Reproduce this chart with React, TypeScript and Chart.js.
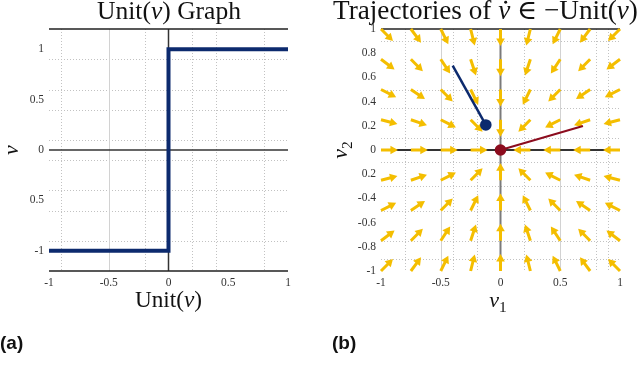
import React, { useEffect, useRef } from "react";
import { Chart, registerables } from "chart.js";
Chart.register(...registerables);

// ---------- Panel (a): Unit(v) graph ----------
const stepX = [-1, 0, 0, 1];
const stepY = [-1, -1, 1, 1];
const aXTicks = [-1, -0.5, 0, 0.5, 1];
const aXTickLabels = ["-1", "-0.5", "0", "0.5", "1"];
const aYTicks = [1, 0.5, 0, -0.5, -1];
const aYTickLabels = ["1", "0.5", "0", "0.5", "-1"];
const aDottedX = [-0.9, -0.2, 0.2, 0.4, 0.8];
const aDottedY = [0.9, 0.6, 0.4, 0.1, -0.1, -0.4, -0.6, -0.9];
const aSolidX = [-0.5];

// ---------- Panel (b): trajectories of v' in -Unit(v) ----------
const quiverX = [-1, -0.75, -0.5, -0.25, 0, 0.25, 0.5, 0.75, 1];
const quiverY = [1, 0.75, 0.5, 0.25, 0, -0.25, -0.5, -0.75, -1];
const arrowLength = 0.1;
const trajX = [-0.4, -0.123];
const trajY = [0.697, 0.207];
const vecX = [0, 0.69];
const vecY = [0, 0.198];
const bXTicks = [-1, -0.5, 0, 0.5, 1];
const bXTickLabels = ["-1", "-0.5", "0", "0.5", "1"];
const bYTicks = [1, 0.8, 0.6, 0.4, 0.2, 0, -0.2, -0.4, -0.6, -0.8, -1];
const bYTickLabels = ["1", "0.8", "0.6", "0.4", "0.2", "0", "0.2", "-0.4", "-0.6", "-0.8", "-1"];
const bDottedX = [-0.8, -0.4, -0.2, 0.2, 0.8, 0.9];
const bDottedY = [0.9, 0.5, 0.35, 0.1, -0.1, -0.3, -0.5, -0.75, -0.9];
const bSolidX = [-0.5, 0.5];

const SERIF = '"Liberation Serif", "DejaVu Serif", serif';
const SANS = '"Liberation Sans", Arial, sans-serif';
const NAVY = "#0c2a6e";
const DARKRED = "#8c0c1e";
const GOLD = "#f4be00";
const TICK_FONT = { family: SERIF, size: 11.5 };
const TICK_COLOR = "#333333";

// quiver field: -Unit(v) evaluated on the grid
const quiverData: { x: number; y: number | null }[] = [];
const quiverAngles: number[] = [];
for (const y of quiverY) {
  for (const x of quiverX) {
    const n = Math.hypot(x, y);
    if (n === 0) continue;
    const ux = -x / n;
    const uy = -y / n;
    quiverData.push({ x, y });
    quiverData.push({ x: x + arrowLength * ux, y: y + arrowLength * uy });
    quiverData.push({ x: x + arrowLength * ux, y: null });
    quiverAngles.push((Math.atan2(ux, uy) * 180) / Math.PI);
  }
}

type Seg = { t: string; it?: boolean; sub?: boolean; dot?: boolean };

function segFont(s: Seg, size: number) {
  const sz = s.sub ? size * 0.7 : size;
  return `${s.it ? "italic " : ""}${sz}px ${SERIF}`;
}
function richWidth(ctx: CanvasRenderingContext2D, segs: Seg[], size: number) {
  let w = 0;
  for (const s of segs) {
    ctx.font = segFont(s, size);
    w += ctx.measureText(s.t).width;
  }
  return w;
}
function drawRich(
  ctx: CanvasRenderingContext2D,
  segs: Seg[],
  o: { x: number; y: number; size: number; align?: "left" | "center"; rotate?: boolean; width?: number; color?: string }
) {
  let size = o.size;
  if (o.width) {
    const w0 = richWidth(ctx, segs, size);
    size = (size * o.width) / w0;
  }
  const w = richWidth(ctx, segs, size);
  ctx.save();
  ctx.translate(o.x, o.y);
  if (o.rotate) ctx.rotate(-Math.PI / 2);
  let cx = o.align === "left" ? 0 : -w / 2;
  ctx.textBaseline = "alphabetic";
  ctx.textAlign = "left";
  ctx.fillStyle = o.color || "#111";
  for (const s of segs) {
    ctx.font = segFont(s, size);
    const sw = ctx.measureText(s.t).width;
    ctx.fillText(s.t, cx, s.sub ? size * 0.22 : 0);
    if (s.dot) {
      ctx.beginPath();
      ctx.arc(cx + sw * 0.62, -size * 0.6, size * 0.055, 0, Math.PI * 2);
      ctx.fill();
    }
    cx += sw;
  }
  ctx.restore();
}

function labelFor(ticks: number[], labels: string[], v: number) {
  const i = ticks.findIndex((t) => Math.abs(t - v) < 1e-9);
  return i >= 0 ? labels[i] : "";
}

type DecorCfg = {
  dottedX: number[];
  dottedY: number[];
  solidX: number[];
  zeroXColor: string;
  zeroXWidth: number;
  zeroYColor: string;
  zeroYWidth: number;
  bottomBorder: boolean;
  texts: (ctx: CanvasRenderingContext2D) => void;
};

function makeDecor(cfg: DecorCfg) {
  return {
    id: "decor",
    beforeDatasetsDraw(chart: any) {
      const ctx: CanvasRenderingContext2D = chart.ctx;
      const { left, right, top, bottom } = chart.chartArea;
      const xs = chart.scales.x;
      const ys = chart.scales.y;
      const vline = (v: number) => {
        const px = Math.round(xs.getPixelForValue(v)) + 0.5;
        ctx.beginPath();
        ctx.moveTo(px, top);
        ctx.lineTo(px, bottom);
        ctx.stroke();
      };
      const hline = (v: number) => {
        const py = Math.round(ys.getPixelForValue(v)) + 0.5;
        ctx.beginPath();
        ctx.moveTo(left, py);
        ctx.lineTo(right, py);
        ctx.stroke();
      };
      ctx.save();
      ctx.lineWidth = 1;
      ctx.strokeStyle = "#c2c2c2";
      ctx.setLineDash([1, 2]);
      cfg.dottedX.forEach(vline);
      cfg.dottedY.forEach(hline);
      ctx.setLineDash([]);
      ctx.strokeStyle = "#d2d2d2";
      cfg.solidX.forEach(vline);
      // zero axes
      ctx.strokeStyle = cfg.zeroYColor;
      ctx.lineWidth = cfg.zeroYWidth;
      const y0 = ys.getPixelForValue(0);
      ctx.beginPath();
      ctx.moveTo(left, y0);
      ctx.lineTo(right, y0);
      ctx.stroke();
      ctx.strokeStyle = cfg.zeroXColor;
      ctx.lineWidth = cfg.zeroXWidth;
      const x0 = xs.getPixelForValue(0);
      ctx.beginPath();
      ctx.moveTo(x0, top);
      ctx.lineTo(x0, bottom);
      ctx.stroke();
      // borders
      ctx.strokeStyle = "#222";
      ctx.lineWidth = 1.5;
      ctx.beginPath();
      ctx.moveTo(left, top);
      ctx.lineTo(right, top);
      if (cfg.bottomBorder) {
        ctx.moveTo(left, bottom);
        ctx.lineTo(right, bottom);
      }
      ctx.stroke();
      ctx.restore();
    },
    afterDraw(chart: any) {
      cfg.texts(chart.ctx);
    },
  };
}

function scaleOpts(ticks: number[], labels: string[], min: number, max: number, isX: boolean, size: number, pad: number) {
  return {
    type: "linear",
    min,
    max,
    grid: { display: false, drawTicks: false },
    border: { display: false },
    afterBuildTicks: (s: any) => {
      s.ticks = ticks.map((v) => ({ value: v }));
    },
    afterFit: (s: any) => {
      if (isX) s.height = size;
      else s.width = size;
    },
    ticks: {
      padding: pad,
      font: TICK_FONT,
      color: TICK_COLOR,
      maxRotation: 0,
      autoSkip: false,
      callback: (v: number) => labelFor(ticks, labels, v),
    },
  };
}

function buildLeft(): any {
  return {
    type: "line",
    data: {
      datasets: [
        {
          data: stepX.map((x, i) => ({ x, y: stepY[i] })),
          borderColor: NAVY,
          borderWidth: 4,
          pointRadius: 0,
          fill: false,
          tension: 0,
          clip: false,
          borderJoinStyle: "miter",
        },
      ],
    },
    options: {
      animation: false,
      responsive: false,
      events: [],
      layout: { padding: { left: 0, right: 32, top: 29, bottom: 0 } },
      plugins: { legend: { display: false }, tooltip: { enabled: false } },
      scales: {
        x: scaleOpts(aXTicks, aXTickLabels, -1, 1, true, 114, 5),
        y: scaleOpts(aYTicks, aYTickLabels, -1.2, 1.2, false, 49, 5),
      },
    },
    plugins: [
      makeDecor({
        dottedX: aDottedX,
        dottedY: aDottedY,
        solidX: aSolidX,
        zeroXColor: "#333",
        zeroXWidth: 1.5,
        zeroYColor: "#333",
        zeroYWidth: 1.5,
        bottomBorder: true,
        texts: (ctx) => {
          drawRich(ctx, [{ t: "Unit(" }, { t: "v", it: true }, { t: ") Graph" }], { x: 169, y: 19, size: 21, width: 144 });
          drawRich(ctx, [{ t: "v", it: true }], { x: 18, y: 150, size: 22, rotate: true });
          drawRich(ctx, [{ t: "Unit(" }, { t: "v", it: true }, { t: ")" }], { x: 168.5, y: 307, size: 22, width: 67 });
          ctx.save();
          ctx.font = `bold 19px ${SANS}`;
          ctx.fillStyle = "#111";
          ctx.textAlign = "left";
          ctx.textBaseline = "alphabetic";
          ctx.fillText("(a)", 0, 349);
          ctx.restore();
        },
      }),
    ],
  };
}

function buildRight(): any {
  return {
    type: "line",
    data: {
      datasets: [
        {
          data: vecX.map((x, i) => ({ x, y: vecY[i] })),
          borderColor: DARKRED,
          borderWidth: 2,
          pointRadius: (c: any) => (c.dataIndex === 0 ? 5.8 : 0),
          pointBackgroundColor: DARKRED,
          pointBorderColor: DARKRED,
          pointBorderWidth: 0,
          clip: false,
        },
        {
          data: trajX.map((x, i) => ({ x, y: trajY[i] })),
          borderColor: NAVY,
          borderWidth: 2.5,
          pointRadius: (c: any) => (c.dataIndex === trajX.length - 1 ? 5.8 : 0),
          pointBackgroundColor: NAVY,
          pointBorderColor: NAVY,
          pointBorderWidth: 0,
          clip: false,
        },
        {
          data: quiverData,
          borderColor: GOLD,
          borderWidth: 3,
          borderCapStyle: "butt",
          spanGaps: false,
          pointStyle: "triangle",
          pointRadius: (c: any) => (c.dataIndex % 3 === 1 ? 5 : 0),
          pointRotation: (c: any) => quiverAngles[Math.floor(c.dataIndex / 3)] || 0,
          pointBackgroundColor: GOLD,
          pointBorderColor: GOLD,
          pointBorderWidth: 0,
          clip: false,
        },
      ],
    },
    options: {
      animation: false,
      responsive: false,
      events: [],
      layout: { padding: { left: 0, right: 20, top: 29, bottom: 0 } },
      plugins: { legend: { display: false }, tooltip: { enabled: false } },
      scales: {
        x: scaleOpts(bXTicks, bXTickLabels, -1, 1, true, 114, 5),
        y: scaleOpts(bYTicks, bYTickLabels, -1, 1, false, 61, 5),
      },
    },
    plugins: [
      makeDecor({
        dottedX: bDottedX,
        dottedY: bDottedY,
        solidX: bSolidX,
        zeroXColor: "#7a7a7a",
        zeroXWidth: 2,
        zeroYColor: "#333",
        zeroYWidth: 2,
        bottomBorder: false,
        texts: (ctx) => {
          drawRich(
            ctx,
            [{ t: "Trajectories of " }, { t: "v", it: true, dot: true }, { t: " ∈ −Unit(" }, { t: "v", it: true }, { t: ")" }],
            { x: 13, y: 18.5, size: 21, width: 305, align: "left" }
          );
          drawRich(ctx, [{ t: "v", it: true }, { t: "2", sub: true }], { x: 27, y: 150, size: 22, rotate: true });
          drawRich(ctx, [{ t: "v", it: true }, { t: "1", sub: true }], { x: 178, y: 307, size: 22 });
          ctx.save();
          ctx.font = `bold 19px ${SANS}`;
          ctx.fillStyle = "#111";
          ctx.textAlign = "left";
          ctx.textBaseline = "alphabetic";
          ctx.fillText("(b)", 12, 349);
          ctx.restore();
        },
      }),
    ],
  };
}

export default function App() {
  const leftRef = useRef<HTMLCanvasElement>(null);
  const rightRef = useRef<HTMLCanvasElement>(null);
  useEffect(() => {
    const a = new Chart(leftRef.current as HTMLCanvasElement, buildLeft());
    const b = new Chart(rightRef.current as HTMLCanvasElement, buildRight());
    return () => {
      a.destroy();
      b.destroy();
    };
  }, []);
  return (
    <div style={{ position: "fixed", left: 0, top: 0, width: 640, height: 385, background: "#fff" }}>
      <canvas
        ref={leftRef}
        width={320}
        height={385}
        style={{ position: "absolute", left: 0, top: 0, width: 320, height: 385 }}
      />
      <canvas
        ref={rightRef}
        width={320}
        height={385}
        style={{ position: "absolute", left: 320, top: 0, width: 320, height: 385 }}
      />
    </div>
  );
}
